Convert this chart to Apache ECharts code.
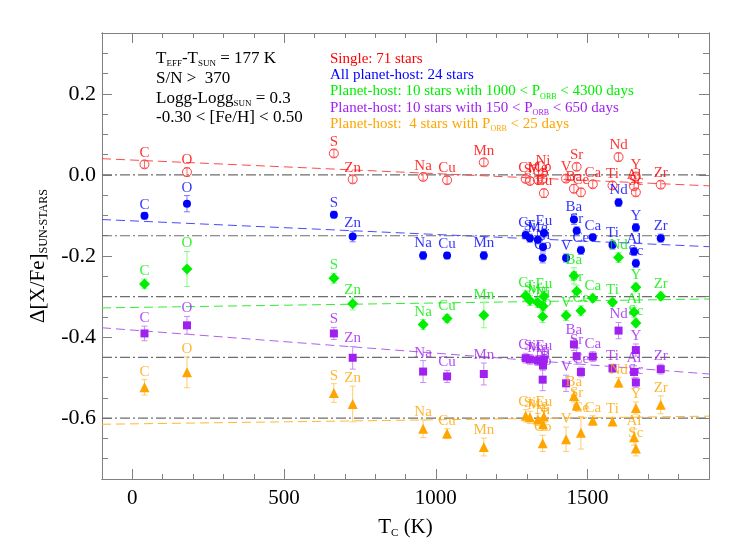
<!DOCTYPE html>
<html><head><meta charset="utf-8">
<script src="https://cdn.jsdelivr.net/npm/echarts@6/dist/echarts.min.js"></script>
<style>html,body{margin:0;padding:0;background:#fff}#c{width:740px;height:545px}</style>
</head><body><div id="c"></div>
<script>
// ---- data ----
const elements = ['C','O','S','Zn','Na','Cu','Mn','Cr','Si','Mg','Co','Ni','Eu','V','Ba','Sr','Ce','Ca','Ti','Nd','Y','Al','Sc','Zr'];
const tc = [40,180,664,726,958,1037,1158,1296,1310,1336,1352,1353,1356,1429,1455,1464,1478,1517,1582,1602,1659,1653,1659,1741];

const singleVals = [0.026,0.007,0.053,-0.011,-0.005,-0.013,0.031,-0.010,-0.015,-0.012,-0.010,0.005,-0.045,-0.009,-0.034,0.020,-0.043,-0.023,-0.026,0.044,-0.004,-0.028,-0.043,-0.024];
const singleErr  = [0.009,0.010,0.009,0.009,0.008,0.009,0.009,0.008,0.008,0.008,0.009,0.009,0.010,0.009,0.010,0.009,0.010,0.009,0.009,0.010,0.009,0.009,0.009,0.009];

const allHostVals = [-0.101,-0.071,-0.098,-0.152,-0.199,-0.199,-0.199,-0.148,-0.156,-0.160,-0.205,-0.178,-0.143,-0.205,-0.110,-0.138,-0.186,-0.154,-0.173,-0.068,-0.130,-0.189,-0.218,-0.156];
const allHostErr  = [0.008,0.020,0.008,0.013,0.010,0.008,0.010,0.010,0.010,0.010,0.012,0.010,0.010,0.010,0.012,0.010,0.010,0.008,0.010,0.010,0.010,0.010,0.010,0.010];

const longPVals = [-0.269,-0.232,-0.255,-0.318,-0.369,-0.354,-0.346,-0.298,-0.310,-0.315,-0.349,-0.324,-0.300,-0.347,-0.249,-0.287,-0.335,-0.304,-0.314,-0.204,-0.277,-0.339,-0.365,-0.299];
const longPErr  = [0.012,0.043,0.012,0.015,0.012,0.010,0.031,0.012,0.012,0.012,0.015,0.012,0.012,0.012,0.020,0.015,0.012,0.010,0.010,0.012,0.010,0.012,0.010,0.010];

const midPVals = [-0.391,-0.371,-0.391,-0.451,-0.485,-0.497,-0.491,-0.452,-0.455,-0.458,-0.505,-0.470,-0.455,-0.514,-0.418,-0.447,-0.486,-0.448,-0.477,-0.384,-0.432,-0.486,-0.512,-0.479];
const midPErr  = [0.018,0.022,0.015,0.028,0.027,0.015,0.027,0.012,0.012,0.012,0.027,0.012,0.012,0.020,0.015,0.020,0.012,0.012,0.010,0.020,0.015,0.015,0.012,0.012];

const shortPVals = [-0.524,-0.487,-0.538,-0.565,-0.626,-0.638,-0.671,-0.594,-0.598,-0.603,-0.662,-0.615,-0.596,-0.652,-0.545,-0.569,-0.636,-0.606,-0.608,-0.512,-0.575,-0.647,-0.675,-0.567];
const shortPErr  = [0.019,0.038,0.023,0.044,0.022,0.012,0.022,0.015,0.015,0.015,0.020,0.015,0.015,0.030,0.015,0.012,0.040,0.012,0.010,0.012,0.015,0.020,0.018,0.022];

// linear trends evaluated at the plot edges
const trendX = [-100, 1900];
const singleTrend = [0.040, -0.027];
const allHostTrend = [-0.110, -0.177];
const longPTrend = [-0.328, -0.306];
const midPTrend = [-0.377, -0.491];
const shortPTrend = [-0.615, -0.595];

const refLevels = [0, -0.15, -0.30, -0.45, -0.60];

const xTickLabels = [0, 500, 1000, 1500];
const yTickLabels = ['-0.6','-0.4','-0.2','0.0','0.2'];

// ---- styling ----
const FONT = 'Liberation Serif';
const groups = [
  {vals: singleVals, errs: singleErr, trend: singleTrend, color:'#ff0000', bar:'#ff6a6a', dash:'#ff4a4a', symbol:'circle', size:9, hollow:true},
  {vals: allHostVals, errs: allHostErr, trend: allHostTrend, color:'#0000ff', bar:'#7a7aff', dash:'#4a4aff', symbol:'circle', size:8},
  {vals: longPVals, errs: longPErr, trend: longPTrend, color:'#00ee00', bar:'#80ff80', dash:'#30ee30', symbol:'diamond', size:11},
  {vals: midPVals, errs: midPErr, trend: midPTrend, color:'#a020f0', bar:'#c88cf4', dash:'#b060f0', symbol:'rect', size:8},
  {vals: shortPVals, errs: shortPErr, trend: shortPTrend, color:'#ffa500', bar:'#ffcc70', dash:'#ffb830', symbol:'triangle', size:10}
];

const AX = '#808080';
function xAx(pos, major, showLabels, withName) {
  const a = {
    type:'value', position: pos, min:-100, max:1900,
    axisLine:{show:true, onZero:false, lineStyle:{color:AX, width:1}},
    axisTick:{show:true, inside:true, length: major?10:5, lineStyle:{color:AX, width:1}},
    axisLabel:{show:showLabels, margin:9, fontSize:21, fontFamily:FONT, color:'#000',
      showMinLabel:false, showMaxLabel:false,
      formatter: v => xTickLabels.indexOf(v) >= 0 ? String(v) : ''},
    splitLine:{show:false}
  };
  if (major) a.splitNumber = 4; else a.interval = 100;
  if (withName) {
    a.name = '{n|T}{s|C}{n| (K)}';
    a.nameLocation = 'middle';
    a.nameGap = 36;
    a.nameTextStyle = {rich:{
      n:{fontSize:21, fontFamily:FONT, color:'#000', lineHeight:24},
      s:{fontSize:11, fontFamily:FONT, color:'#000', verticalAlign:'bottom', lineHeight:12}
    }};
  }
  return a;
}
function yAx(pos, major, showLabels, withName) {
  const a = {
    type:'value', position: pos, min:-0.75, max:0.35,
    axisLine:{show:true, onZero:false, lineStyle:{color:AX, width:1}},
    axisTick:{show:true, inside:true, length: major?10:6, lineStyle:{color:AX, width:1}},
    axisLabel:{show:showLabels, margin:6, fontSize:22, fontFamily:FONT, color:'#000',
      showMinLabel:false, showMaxLabel:false,
      formatter: v => { const s = (Math.abs(v) < 1e-9 ? 0 : v).toFixed(1); return yTickLabels.indexOf(s) >= 0 ? s : ''; }},
    splitLine:{show:false}
  };
  if (major) a.splitNumber = 5; else a.interval = 0.05;
  if (withName) {
    a.name = '{n|Δ[X/Fe]}{s|SUN-STARS}';
    a.nameLocation = 'middle';
    a.nameGap = 52;
    a.nameRotate = 90;
    a.nameTextStyle = {rich:{
      n:{fontSize:21, fontFamily:FONT, color:'#000', lineHeight:24},
      s:{fontSize:12, fontFamily:FONT, color:'#000', verticalAlign:'bottom', lineHeight:12}
    }};
  }
  return a;
}

const series = [];
// reference dash-dot lines
refLevels.forEach(l => {
  series.push({type:'line', xAxisIndex:0, yAxisIndex:0, symbol:'none', silent:true, z:1,
    data:[[trendX[0], l],[trendX[1], l]],
    lineStyle:{color:'#6e6e6e', width:1.2, type:[10,3,2,3]}});
});
groups.forEach(g => {
  // trend line
  series.push({type:'line', xAxisIndex:0, yAxisIndex:0, symbol:'none', silent:true, z:2,
    data:[[trendX[0], g.trend[0]],[trendX[1], g.trend[1]]],
    lineStyle:{color:g.dash, width:1, type:[9,5]}});
  // error bars
  series.push({type:'custom', xAxisIndex:0, yAxisIndex:0, z:3, silent:true,
    encode:{x:0, y:1},
    data: tc.map((t,i) => [t, g.vals[i], g.errs[i]]),
    renderItem: (params, api) => {
      const x = api.value(0), y = api.value(1), e = api.value(2);
      const p1 = api.coord([x, y + e]), p2 = api.coord([x, y - e]);
      const w = 3;
      const st = {stroke:g.bar, lineWidth:1};
      return {type:'group', children:[
        {type:'line', shape:{x1:p1[0], y1:p1[1], x2:p2[0], y2:p2[1]}, style:st},
        {type:'line', shape:{x1:p1[0]-w, y1:p1[1], x2:p1[0]+w, y2:p1[1]}, style:st},
        {type:'line', shape:{x1:p2[0]-w, y1:p2[1], x2:p2[0]+w, y2:p2[1]}, style:st}
      ]};
    }});
  // markers
  series.push({type:'scatter', xAxisIndex:0, yAxisIndex:0, z:4, silent:true,
    symbol:g.symbol, symbolSize:g.size,
    itemStyle: g.hollow ? {color:'rgba(0,0,0,0)', borderColor:'#ff4040', borderWidth:1, opacity:1}
                        : {color:g.color, opacity:1},
    data: tc.map((t,i) => [t, g.vals[i]])});
  // element labels
  series.push({type:'scatter', xAxisIndex:0, yAxisIndex:0, z:5, silent:true,
    symbolSize:1, itemStyle:{color:'rgba(0,0,0,0)'},
    label:{show:true, position:'top', distance:0, formatter:'{b}', color:g.color,
      fontFamily:FONT, fontSize:15},
    data: tc.map((t,i) => ({name: elements[i], value:[t, g.vals[i] + g.errs[i]]}))});
});

function rt(fill, n, s) {
  return {
    n:{fontSize:n, fontFamily:FONT, fill:fill, lineHeight:n+3},
    s:{fontSize:s, fontFamily:FONT, fill:fill, verticalAlign:'bottom', lineHeight:s+1}
  };
}
const infoLines = [
  '{n|T}{s|EFF}{n|-T}{s|SUN}{n| = 177 K}',
  '{n|S/N >  370}',
  '{n|Logg-Logg}{s|SUN}{n| = 0.3}',
  '{n|-0.30 < [Fe/H] < 0.50}'
];
const infoY = [60, 80, 100, 119.5];
const legendLines = [
  '{n|Single: 71 stars}',
  '{n|All planet-host: 24 stars}',
  '{n|Planet-host: 10 stars with 1000 < P}{s|ORB}{n| < 4300 days}',
  '{n|Planet-host: 10 stars with 150 < P}{s|ORB}{n| < 650 days}',
  '{n|Planet-host:  4 stars with P}{s|ORB}{n| < 25 days}'
];
const legendY = [60.5, 76.8, 93, 109.3, 125.8];

const graphics = [];
infoLines.forEach((t,i) => graphics.push({type:'text', left:156, top:infoY[i]-10, z:10,
  style:{text:t, rich:rt('#000', 17, 9), verticalAlign:'top'}}));
legendLines.forEach((t,i) => graphics.push({type:'text', left:330, top:legendY[i]-9, z:10,
  style:{text:t, rich:rt(groups[i].color, 15, 8), verticalAlign:'top'}}));

const chart = echarts.init(document.getElementById('c'), null, {renderer:'canvas'});
chart.setOption({
  animation:false,
  backgroundColor:'#fff',
  grid:{left:102, right:31, top:33, bottom:66, containLabel:false},
  xAxis:[xAx('bottom', false, false, false), xAx('bottom', true, true, true), xAx('top', false, false, false), xAx('top', true, false, false)],
  yAxis:[yAx('left', false, false, false), yAx('left', true, true, true), yAx('right', false, false, false), yAx('right', true, false, false)],
  series: series,
  graphic: graphics
});
</script></body></html>
